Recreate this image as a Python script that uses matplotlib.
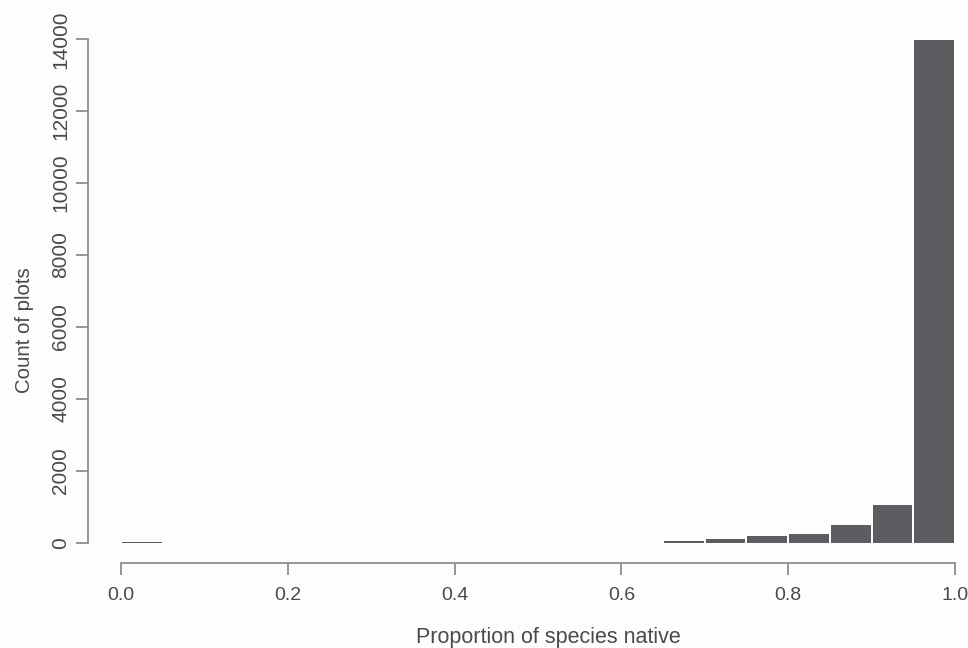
import matplotlib.pyplot as plt
import numpy as np

# histogram of proportion of species native, bin width 0.05
bin_edges = np.round(np.arange(0, 1.0001, 0.05), 2)
counts = [30, 0, 0, 0, 0, 0, 0, 0, 0, 0, 0, 0, 0, 35, 110, 175, 250, 480, 1040, 13980]
y_ticks = [0, 2000, 4000, 6000, 8000, 10000, 12000, 14000]
x_ticks = [0.0, 0.2, 0.4, 0.6, 0.8, 1.0]

bg = "#fdfdfd"
txt = "#4a4a4a"
line = "#8e8e8e"
font = "Liberation Sans"

fig = plt.figure(figsize=(9.68, 6.48), dpi=100, facecolor=bg)
# axes box placed so that 0..1 spans x px 121..955 and 0..14000 spans y px 543..39
ax = fig.add_axes([0.0905, 0.1315, 0.9305, 0.8389])
ax.set_facecolor(bg)

gap = 0.0024
ax.bar(bin_edges[:-1] + gap / 2, counts, width=0.05 - gap, align="edge",
       color="#5d5d61", linewidth=0)

ax.set_xlim(-0.04, 1.04)
ax.set_ylim(-560, 14560)

for s in ["top", "right"]:
    ax.spines[s].set_visible(False)
ax.spines["left"].set_bounds(0, 14000)
ax.spines["bottom"].set_bounds(0, 1)
for s in ["left", "bottom"]:
    ax.spines[s].set_color(line)
    ax.spines[s].set_linewidth(1.3)

ax.set_xticks(x_ticks)
ax.set_xticklabels(["0.0", "0.2", "0.4", "0.6", "0.8", "1.0"], family=font)
ax.set_yticks(y_ticks)
ax.set_yticklabels([str(v) for v in y_ticks], rotation=90, va="center",
                   family=font)
ax.tick_params(colors=line, labelcolor=txt, length=8.5, width=1.3)
ax.tick_params(axis="x", labelsize=14, pad=9)
ax.tick_params(axis="y", labelsize=15, pad=4)

ax.set_xlabel("Proportion of species native", fontsize=15.5, color=txt,
              family=font)
ax.xaxis.label.set_va("baseline")
ax.xaxis.set_label_coords(0.512, -0.1475)
ax.set_ylabel("Count of plots", fontsize=14.7, color=txt, family=font)
ax.yaxis.set_label_coords(-0.0595, 0.428)

fig.savefig("out.png", dpi=100, facecolor=fig.get_facecolor())
